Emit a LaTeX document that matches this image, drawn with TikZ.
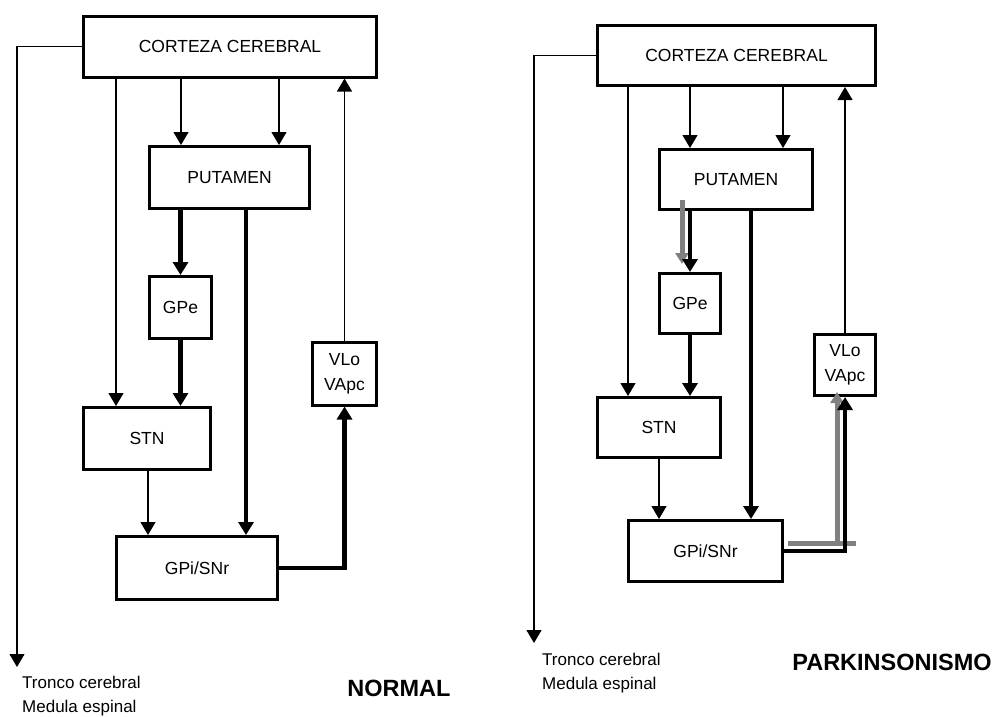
\documentclass[tikz,border=0pt]{standalone}
\usepackage{fontspec}
\setmainfont{Liberation Sans}
\usetikzlibrary{arrows.meta}
\begin{document}
\begin{tikzpicture}[x=1pt,y=-1pt,
  box/.style={draw, line width=3pt, inner sep=0pt, font=\fontsize{17.5}{25}\selectfont, align=center},
  thinln/.style={line width=1.1pt},
  thinarr/.style={thinln, -{Triangle[width=15pt,length=13pt]}},
  thickln/.style={line width=4.5pt},
  thickarr/.style={thickln, -{Triangle[width=15pt,length=13pt]}},
  greyln/.style={line width=5pt, draw=gray},
  greyarr/.style={greyln, -{Triangle[width=13pt,length=11pt]}, fill=gray},
  lbl/.style={font=\fontsize{17}{24}\selectfont, align=left, inner sep=0pt},
  titlelbl/.style={font=\bfseries\fontsize{23.5}{28}\selectfont, inner sep=0pt}]
\useasboundingbox (0,0) rectangle (1003,716);

% ---------------- NORMAL ----------------
\node[box, minimum width=293pt, minimum height=61pt] (cc1) at (230,46.5) {CORTEZA CEREBRAL};
\node[box, minimum width=160pt, minimum height=62pt] (pu1) at (229.5,177.5) {PUTAMEN};
\node[box, minimum width=62pt, minimum height=62pt] (gpe1) at (180.5,307.5) {GPe};
\node[box, minimum width=127pt, minimum height=62pt] (stn1) at (147,438.5) {STN};
\node[box, minimum width=64pt, minimum height=63pt] (vlo1) at (344.5,373.5) {VLo\\VApc};
\node[box, minimum width=161pt, minimum height=63pt] (gpi1) at (197,568) {GPi/SNr};

\coordinate (a1) at (181,0);
\coordinate (a2) at (279,0);
\coordinate (a3) at (116,0);
\coordinate (a4) at (246,0);
\coordinate (a5) at (148,0);
\coordinate (out1) at (17,667);

\draw[thinarr] (cc1.west) -| (out1);
\draw[thinarr] (cc1.south -| a1) -- (pu1.north -| a1);
\draw[thinarr] (cc1.south -| a2) -- (pu1.north -| a2);
\draw[thinarr] (cc1.south -| a3) -- (stn1.north -| a3);
\draw[thinarr] (vlo1.north) -- (cc1.south -| vlo1.north);
\draw[thickarr] (pu1.south -| gpe1.north) -- (gpe1.north);
\draw[thickarr] (gpe1.south) -- (stn1.north -| gpe1.south);
\draw[thickarr] (pu1.south -| a4) -- (gpi1.north -| a4);
\draw[thinarr] (stn1.south -| a5) -- (gpi1.north -| a5);
\draw[thickarr] (gpi1.east) -| (vlo1.south);

\node[lbl, anchor=base west] (tr1) at (22,712) {Tronco cerebral\\Medula espinal};
\node[titlelbl] (t1) at (399,688) {NORMAL};

% ---------------- PARKINSONISMO ----------------
\node[box, minimum width=278pt, minimum height=60pt] (cc2) at (736.5,55.5) {CORTEZA CEREBRAL};
\node[box, minimum width=153pt, minimum height=60pt] (pu2) at (736,179.5) {PUTAMEN};
\node[box, minimum width=61pt, minimum height=60pt] (gpe2) at (690,303.5) {GPe};
\node[box, minimum width=123pt, minimum height=60pt] (stn2) at (659,427.5) {STN};
\node[box, minimum width=61pt, minimum height=61pt] (vlo2) at (845,365) {VLo\\VApc};
\node[box, minimum width=154pt, minimum height=61pt] (gpi2) at (705.5,551) {GPi/SNr};

\coordinate (b1) at (690,0);
\coordinate (b2) at (783,0);
\coordinate (b3) at (628,0);
\coordinate (b4) at (751,0);
\coordinate (b5) at (659,0);
\coordinate (out2) at (534,643);

% grey paths (behind)
\coordinate (g1s) at (682,200);
\coordinate (g1e) at (682,264);
\coordinate (g2a) at (788,543);
\coordinate (g2b) at (856,543);
\coordinate (g2c) at (837,543);
\coordinate (g2d) at (837,392);
\draw[greyarr] (g1s) -- (g1e);
\draw[greyln] (g2a) -- (g2b);
\draw[greyarr] (g2c) -- (g2d);

\draw[thinarr] (cc2.west) -| (out2);
\draw[thinarr] (cc2.south -| b1) -- (pu2.north -| b1);
\draw[thinarr] (cc2.south -| b2) -- (pu2.north -| b2);
\draw[thinarr] (cc2.south -| b3) -- (stn2.north -| b3);
\draw[thinarr] (vlo2.north) -- (cc2.south -| vlo2.north);
\draw[thickarr] (pu2.south -| gpe2.north) -- (gpe2.north);
\draw[thickarr] (gpe2.south) -- (stn2.north -| gpe2.south);
\draw[thickarr] (pu2.south -| b4) -- (gpi2.north -| b4);
\draw[thinarr] (stn2.south -| b5) -- (gpi2.north -| b5);
\draw[thickarr] (gpi2.east) -| (vlo2.south);

\node[lbl, anchor=base west] (tr2) at (542,689) {Tronco cerebral\\Medula espinal};
\node[titlelbl] (t2) at (892,662) {PARKINSONISMO};
\end{tikzpicture}
\end{document}
